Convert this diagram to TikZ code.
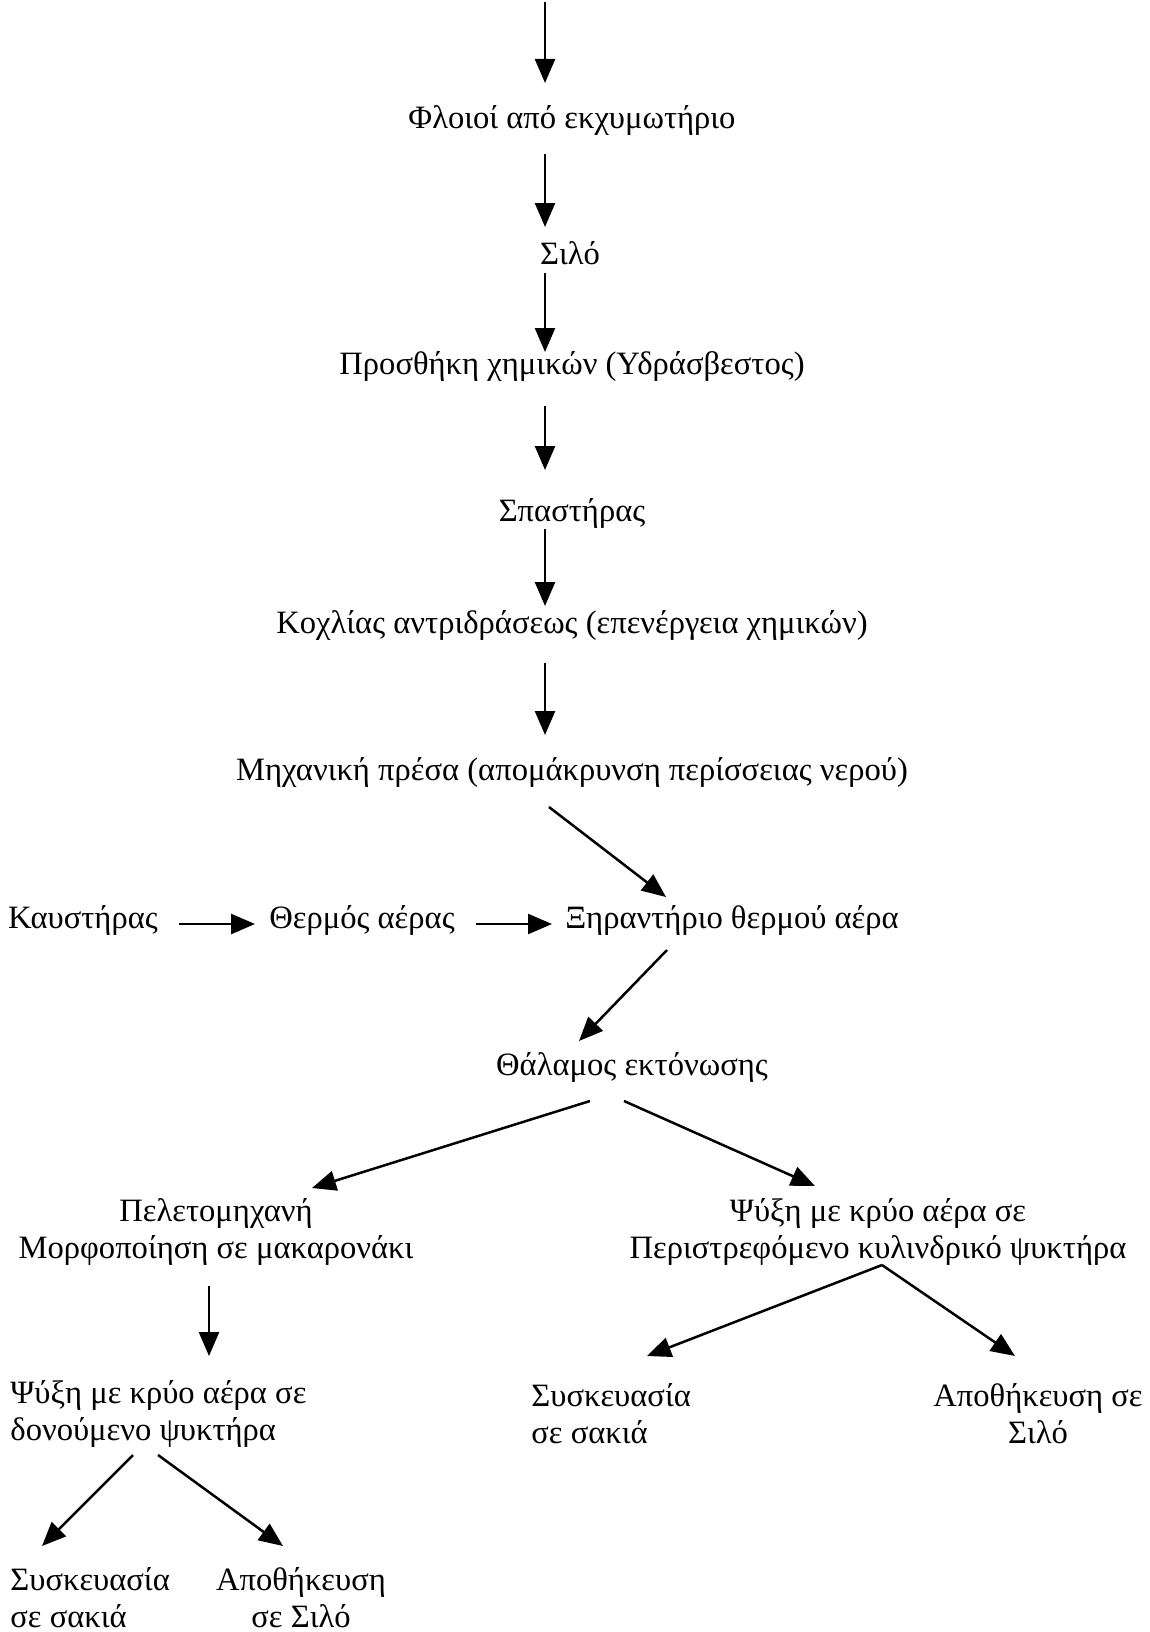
\documentclass[tikz,border=0pt]{standalone}
\usepackage{fontspec}
\setmainfont{Liberation Serif}
\usetikzlibrary{arrows.meta,calc}
\begin{document}
\begin{tikzpicture}[x=0.5pt,y=-0.5pt,
  lbl/.style={inner sep=0pt,font=\fontsize{16.3}{18.4}\selectfont},
  arr/.style={line width=1.25pt,-{Triangle[length=12pt,width=10pt]}}]
\useasboundingbox (0,0) rectangle (1150,1632);
\node[lbl] (n0) at (572,120) {Φλοιοί από εκχυμωτήριο};
\node[lbl] (n1) at (570,253) {Σιλό};
\node[lbl] (n2) at (572,366) {Προσθήκη χημικών (Υδράσβεστος)};
\node[lbl] (n3) at (572,513) {Σπαστήρας};
\node[lbl] (n4) at (572,625) {Κοχλίας αντριδράσεως (επενέργεια χημικών)};
\node[lbl] (n5) at (572,772) {Μηχανική πρέσα (απομάκρυνση περίσσειας νερού)};
\node[lbl] (k) at (83,920) {Καυστήρας};
\node[lbl] (t) at (362,920) {Θερμός αέρας};
\node[lbl] (x) at (732,920) {Ξηραντήριο θερμού αέρα};
\node[lbl] (th) at (632,1067) {Θάλαμος εκτόνωσης};
\node[lbl,align=center] (p) at (216,1232) {Πελετομηχανή\\Μορφοποίηση σε μακαρονάκι};
\node[lbl,align=center] (r) at (878,1232) {Ψύξη με κρύο αέρα σε\\Περιστρεφόμενο κυλινδρικό ψυκτήρα};
\node[lbl,align=left,anchor=west] (lc) at (10,1414) {Ψύξη με κρύο αέρα σε\\δονούμενο ψυκτήρα};
\node[lbl,align=left,anchor=west] (rs) at (531,1414) {Συσκευασία\\σε σακιά};
\node[lbl,align=center] (ra) at (1038,1414) {Αποθήκευση σε\\Σιλό};
\node[lbl,align=left,anchor=west] (ls) at (10,1598) {Συσκευασία\\σε σακιά};
\node[lbl,align=center] (la) at (301,1598) {Αποθήκευση\\σε Σιλό};
\coordinate (top) at ($(n0.center)+(-27,-118)$);
\draw[arr] (top) -- ($(n0.center)+(-27,-37)$);
\draw[arr] ($(n0.center)+(-27,34)$) -- ($(n1.center)+(-25,-26)$);
\draw[arr] ($(n1.center)+(-25,20)$) -- ($(n2.center)+(-27,-14)$);
\draw[arr] ($(n2.center)+(-27,40)$) -- ($(n3.center)+(-27,-43)$);
\draw[arr] ($(n3.center)+(-27,16)$) -- ($(n4.center)+(-27,-19)$);
\draw[arr] ($(n4.center)+(-27,38)$) -- ($(n5.center)+(-27,-37)$);
\draw[arr] ($(n5.center)+(-23,35)$) -- ($(x.center)+(-66,-23)$);
\draw[arr] ($(k.center)+(96,4)$) -- ($(t.center)+(-107,4)$);
\draw[arr] ($(t.center)+(114,4)$) -- ($(x.center)+(-180,4)$);
\draw[arr] ($(x.center)+(-65,30)$) -- ($(th.center)+(-53,-26)$);
\draw[arr] ($(th.center)+(-42,34)$) -- ($(p.center)+(96,-44)$);
\draw[arr] ($(th.center)+(-8,34)$) -- ($(r.center)+(-63,-46)$);
\draw[arr] ($(p.center)+(-7,54)$) -- ($(lc.west)+(199,-58)$);
\draw[arr] ($(r.center)+(4,33)$) -- ($(rs.west)+(116,-58)$);
\draw[arr] ($(r.center)+(4,33)$) -- ($(ra.center)+(-23,-58)$);
\draw[arr] ($(lc.west)+(123,41)$) -- ($(ls.west)+(32,-52)$);
\draw[arr] ($(lc.west)+(148,41)$) -- ($(la.center)+(-18,-52)$);
\end{tikzpicture}
\end{document}
